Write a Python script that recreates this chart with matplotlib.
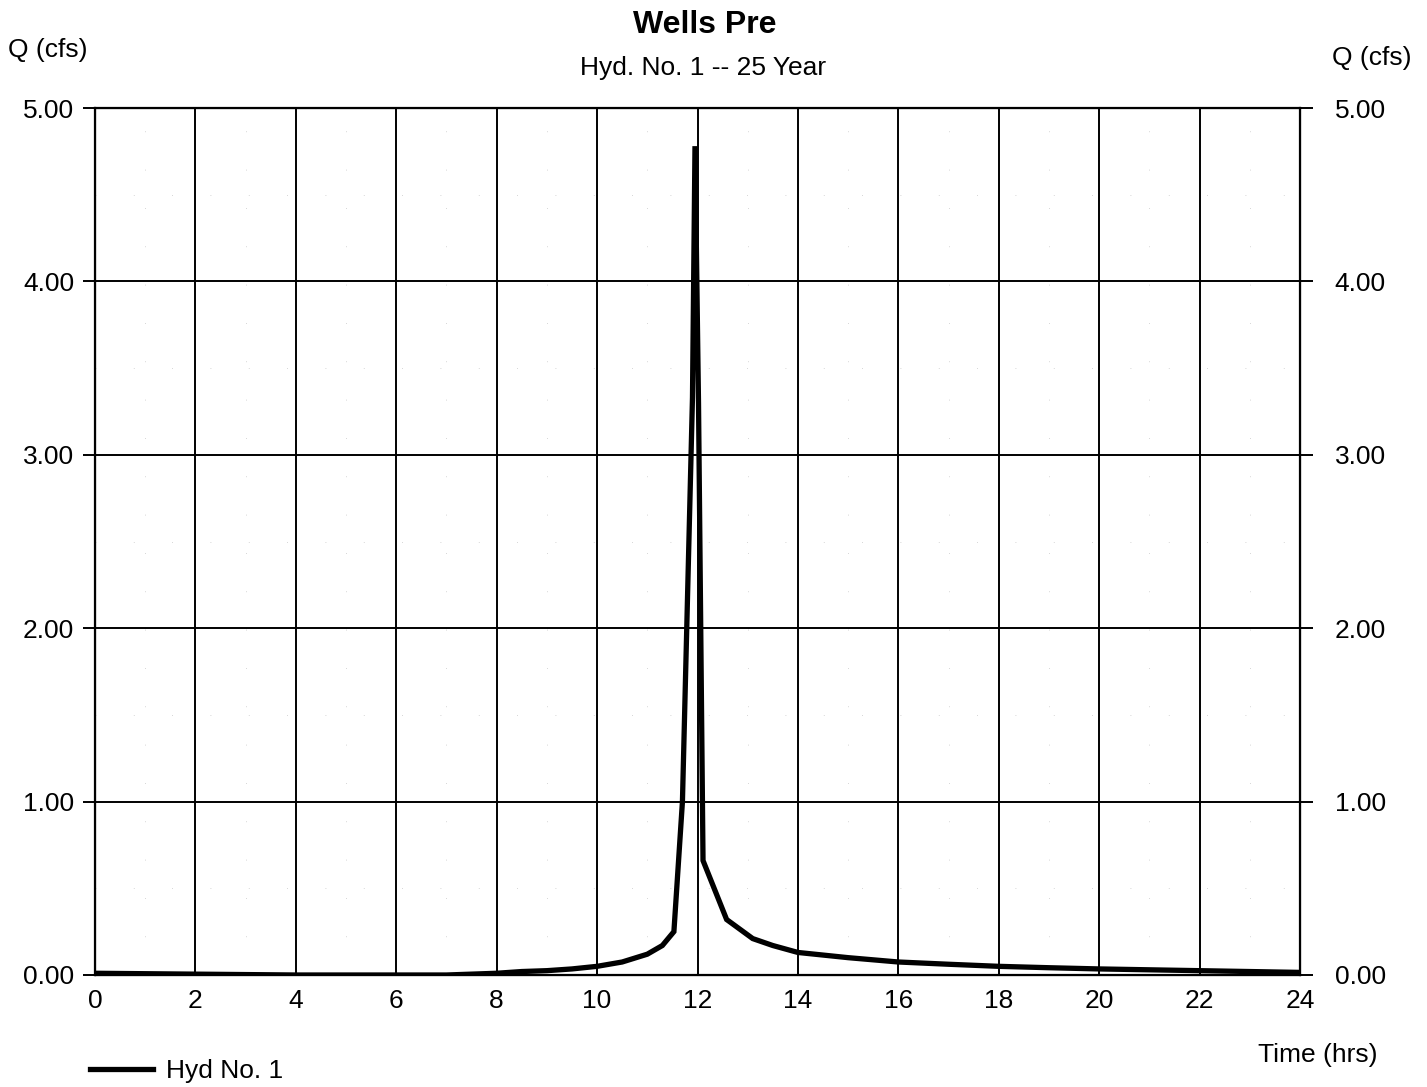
"""Hydrograph: Wells Pre, Hyd. No. 1 -- 25 Year."""

import matplotlib.pyplot as plt
from matplotlib.ticker import MultipleLocator

plt.rcParams["font.family"] = ["Liberation Sans", "DejaVu Sans"]

time_hrs = [0, 2, 4, 6, 7, 8, 8.5, 9, 9.5, 10, 10.5, 11, 11.3, 11.53,
            11.7, 11.9, 11.95, 12.02, 12.11, 12.58, 13.1, 13.5, 14, 15,
            16, 17, 18, 19, 20, 21, 22, 23, 24]
flow_cfs = [0.01, 0.005, 0.0, 0.0, 0.0, 0.01, 0.02, 0.025, 0.035, 0.05,
            0.075, 0.12, 0.17, 0.25, 1.0, 3.33, 4.78, 3.3, 0.66, 0.32,
            0.21, 0.17, 0.13, 0.1, 0.075, 0.062, 0.05, 0.042, 0.035,
            0.03, 0.025, 0.02, 0.015]

x_ticks = list(range(0, 25, 2))
y_ticks = [0.0, 1.0, 2.0, 3.0, 4.0, 5.0]

W, H = 1427, 1087
FS = 19

fig = plt.figure(figsize=(W / 100, H / 100), dpi=100)
fig.patch.set_facecolor("white")
ax = fig.add_axes([95 / W, 1 - 975 / H, 1205 / W, 867 / H])

line, = ax.plot(time_hrs, flow_cfs, color="black", lw=3.8,
                solid_joinstyle="miter", label="Hyd No. 1", zorder=3)

ax.set_xlim(0, 24)
ax.set_ylim(0, 5)
ax.set_xticks(x_ticks)
ax.set_yticks(y_ticks)
ax.set_yticklabels([f"{v:.2f}" for v in y_ticks])
ax.grid(True, color="black", lw=1.4)
ax.tick_params(axis="y", length=9, width=1.4, labelsize=FS, pad=6)
ax.tick_params(axis="x", length=0, labelsize=FS, pad=10)
for sp in ax.spines.values():
    sp.set_linewidth(1.6)

# faint dotted minor grid, as in the scanned original
ax.xaxis.set_minor_locator(MultipleLocator(1))
ax.yaxis.set_minor_locator(MultipleLocator(0.5))
ax.grid(True, which="minor", color="#c8c8c8", lw=0.6, ls=(0, (1, 45)))
ax.tick_params(which="minor", length=0)

ax2 = ax.twinx()
ax2.set_ylim(0, 5)
ax2.set_yticks(y_ticks)
ax2.set_yticklabels([f"{v:.2f}" for v in y_ticks])
ax2.tick_params(axis="y", length=9, width=1.4, labelsize=FS, pad=16)

# ── Text ─────────────────────────────────────────────────────────────────────
fig.text(705 / W, 1 - 25 / H, "Wells Pre", ha="center", va="center",
         fontsize=23, fontweight="bold")
fig.text(703 / W, 1 - 68 / H, "Hyd. No. 1 -- 25 Year", ha="center",
         va="center", fontsize=19)
fig.text(8 / W, 1 - 50 / H, "Q (cfs)", ha="left", va="center", fontsize=FS)
fig.text(1412 / W, 1 - 58 / H, "Q (cfs)", ha="right", va="center", fontsize=FS)
fig.text(1378 / W, 1 - 1055 / H, "Time (hrs)", ha="right", va="center",
         fontsize=FS)

fig.legend(handles=[line], loc="center left",
           bbox_to_anchor=(66 / W, 1 - 1071 / H), frameon=False,
           fontsize=FS, handlelength=2.4, handletextpad=0.5)

fig.savefig("out.png", dpi=100, facecolor="white")
